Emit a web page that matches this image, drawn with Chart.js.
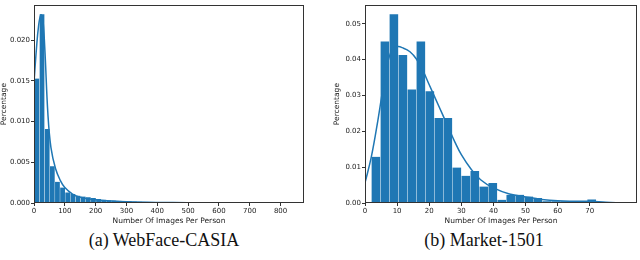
<!DOCTYPE html>
<html>
<head>
<meta charset="utf-8">
<script src="https://cdn.jsdelivr.net/npm/chart.js@4.4.1/dist/chart.umd.min.js"></script>
<style>
  body { margin: 0; background: #fff; width: 640px; height: 260px; position: relative; overflow: hidden; }
  .box { position: absolute; top: 0; }
  .cap { position: absolute; top: 230px; font-family: "Liberation Serif", serif; font-size: 18px; line-height: 20px; color: #111; text-align: center; width: 300px; white-space: nowrap; }
</style>
</head>
<body>
<div class="box" style="left:0"><canvas id="c1" width="308" height="226"></canvas></div>
<div class="box" style="left:333px"><canvas id="c2" width="307" height="226"></canvas></div>
<div class="cap" style="left:14px">(a) WebFace-CASIA</div>
<div class="cap" style="left:334px">(b) Market-1501</div>
<script>
// WebFace-CASIA histogram: 50 bins from 1 to 835
const casia_start = 1;
const casia_width = 16.68;
const casia_vals = [0.0153, 0.0232, 0.0091, 0.0045, 0.0026, 0.0019, 0.0013, 0.0011, 0.0009, 0.0008,
  0.0007, 0.0006, 0.0005, 0.0004, 0.00035, 0.0003, 0.00028, 0.00024, 0.0002, 0.00017,
  0.00015, 0.00013, 0.00012, 0.0001, 0.0001, 0.00009, 0.00008, 0.00007, 0.00006, 0.00005,
  0.00005, 0.00004, 0.00004, 0.00003, 0.00003, 0.00003, 0.00003, 0.00002, 0.00002, 0.00002,
  0.00002, 0.00002, 0.00002, 0.00002, 0.00001, 0.00001, 0.00001, 0.00001, 0.00001, 0.00001];
const casia_kde_x = [0, 8, 15, 22, 28, 35, 45, 55, 70, 85, 100, 125, 150, 200, 250, 300, 400, 500, 600, 835];
const casia_kde_y = [0.0148, 0.019, 0.0218, 0.0231, 0.0228, 0.019, 0.011, 0.0068, 0.0042, 0.0028, 0.0019, 0.0011, 0.0007, 0.0004, 0.00025, 0.00015, 0.00007, 0.00004, 0.00002, 0.00001];

// Market-1501 histogram: 25 bins from 2 to 72
const market_start = 2;
const market_width = 2.8;
const market_vals = [0.0129, 0.0451, 0.0527, 0.0413, 0.0317, 0.0451, 0.0312, 0.0237, 0.0237, 0.0099,
  0.0076, 0.0089, 0.0046, 0.0056, 0.0009, 0.0023, 0.0023, 0.0018, 0.0014, 0.0005,
  0.0005, 0.0005, 0.0005, 0.0005, 0.001];
const market_kde_x = [0, 2, 4, 6, 8, 10, 12, 14, 16, 18, 20, 22, 24, 26, 28, 30, 33, 36, 40, 45, 50, 55, 60, 65, 70, 75, 80];
const market_kde_y = [0.0056, 0.013, 0.023, 0.034, 0.042, 0.0436, 0.0432, 0.0422, 0.0402, 0.037, 0.033, 0.029, 0.025, 0.021, 0.017, 0.0135, 0.0095, 0.0065, 0.0042, 0.0025, 0.0017, 0.001, 0.0006, 0.0005, 0.0005, 0.0002, 0.0];

const blue = "#1f77b4";
const tickFont = { family: "DejaVu Sans", size: 7 };
const titleFont = { family: "DejaVu Sans", size: 7.5 };

const frame = {
  id: "frame",
  afterDraw(chart) {
    const a = chart.chartArea, ctx = chart.ctx;
    ctx.save();
    ctx.strokeStyle = "#333";
    ctx.lineWidth = 1;
    ctx.strokeRect(Math.round(a.left) + 0.5, Math.round(a.top) + 0.5, Math.round(a.right - a.left) - 1, Math.round(a.bottom - a.top) - 1);
    ctx.restore();
  }
};

// keep only ticks on the step grid (drop the extra one at max)
const keep_steps = (step) => (s) => {
  s.ticks = s.ticks.filter(t => Math.abs(t.value / step - Math.round(t.value / step)) < 1e-6);
};

const make_chart = (el, start, width, vals, kx, ky, xr, yr, ywidth, rpad) => {
  const bars = vals.map((v, i) => ({ x: start + width * (i + 0.5), y: v }));
  const kde = kx.map((x, i) => ({ x: x, y: ky[i] }));
  new Chart(el, {
    data: {
      datasets: [
        { type: "line", data: kde, borderColor: blue, borderWidth: 1.5, pointRadius: 0, tension: 0.4, fill: false, order: 0 },
        { type: "bar", data: bars, backgroundColor: blue, borderColor: "rgba(255,255,255,0.22)", borderWidth: { left: 0.5, right: 0.5, top: 0, bottom: 0 },
          barPercentage: 1, categoryPercentage: 1, order: 1 }
      ]
    },
    options: {
      responsive: false,
      animation: false,
      layout: { padding: { top: 2, right: rpad, left: 0, bottom: 0 } },
      plugins: { legend: { display: false }, tooltip: { enabled: false } },
      scales: {
        x: {
          type: "linear", min: xr[0], max: xr[1], offset: false,
          grid: { drawOnChartArea: false, drawTicks: true, tickLength: 3, color: "#333", offset: false },
          border: { display: false },
          ticks: { stepSize: xr[2], font: tickFont, color: "#222", padding: 1, maxRotation: 0, autoSkip: false },
          afterBuildTicks: keep_steps(xr[2]),
          title: { display: true, text: "Number Of Images Per Person", font: titleFont, color: "#222", padding: { top: 1, bottom: 0 } },
          afterFit: s => { s.height = 23; }
        },
        y: {
          min: 0, max: yr[0],
          grid: { drawOnChartArea: false, drawTicks: true, tickLength: 3, color: "#333" },
          border: { display: false },
          ticks: { stepSize: yr[1], font: tickFont, color: "#222", padding: 1, callback: v => v.toFixed(yr[2]) },
          afterBuildTicks: keep_steps(yr[1]),
          title: { display: true, text: "Percentage", font: titleFont, color: "#222", padding: { top: 0, bottom: 2 } },
          afterFit: s => { s.width = ywidth; }
        }
      }
    },
    plugins: [frame]
  });
};

make_chart(document.getElementById("c1"), casia_start, casia_width, casia_vals, casia_kde_x, casia_kde_y,
  [0, 876, 100], [0.0243, 0.005, 3], 34, 4);
make_chart(document.getElementById("c2"), market_start, market_width, market_vals, market_kde_x, market_kde_y,
  [0, 84.7, 10], [0.0552, 0.01, 2], 32, 3);
</script>
</body>
</html>
